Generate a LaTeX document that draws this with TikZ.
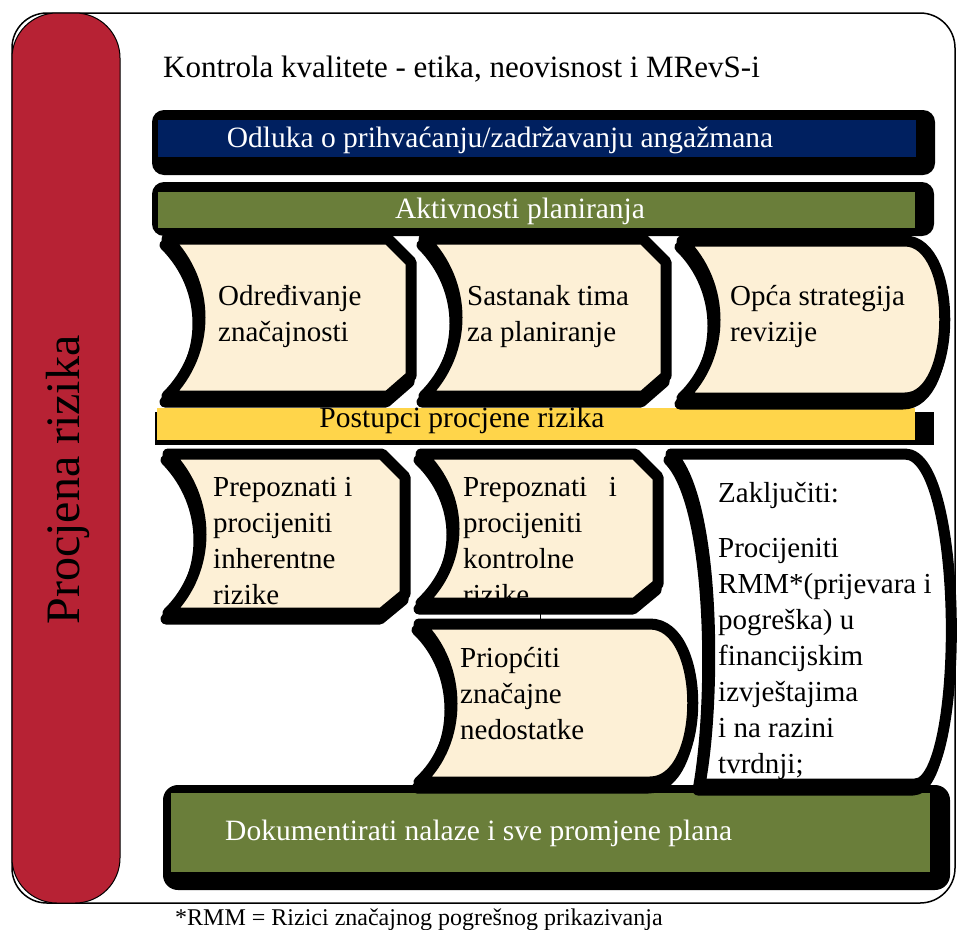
\documentclass[tikz,border=0pt]{standalone}
\usepackage{fontspec}
\setmainfont{Liberation Serif}
\definecolor{navy}{HTML}{002060}
\definecolor{olive}{HTML}{6A7E3A}
\definecolor{ambr}{HTML}{FFD54A}
\definecolor{cream}{HTML}{FDF0D6}
\definecolor{rred}{HTML}{B72234}
\newcommand\mylines[1]{\begin{tabular}[t]{@{}l@{}}#1\end{tabular}}
\tikzset{
  blk/.style={fill=black, rounded corners=12pt},
  chev/.style={fill=cream, draw=black, line width=11pt, line join=round},
  chevw/.style={fill=white, draw=black, line width=11pt, line join=round},
  shad/.style={fill=black, draw=black, line width=11pt, line join=round, yshift=-6pt, xshift=-2pt},
  lbl/.style={anchor=base west, inner sep=0pt, font=\fontsize{29}{36}\selectfont},
  barlbl/.style={anchor=base, inner sep=0pt, text=white, font=\fontsize{29.5}{35}\selectfont},
}
\newcommand\shpA{(167,239) -- (388,239) -- (411,262) -- (411,376) -- (388,396) -- (167,396) .. controls (211,352) and (211,283) .. cycle}
\newcommand\shpB{(424,239) -- (643,239) -- (666,262) -- (666,376) -- (643,396) -- (424,396) .. controls (468,352) and (468,283) .. cycle}
\newcommand\shpC{(682,241) -- (905,241) .. controls (958,241) and (958,398) .. (905,398) -- (682,398) .. controls (726,356) and (726,284) .. cycle}
\newcommand\shpD{(168,454) -- (382,454) -- (405,477) -- (405,594) -- (382,613) -- (168,613) .. controls (212,570) and (212,499) .. cycle}
\newcommand\shpE{(421,454) -- (635,454) -- (658,477) -- (658,584) -- (635,603) -- (421,603) .. controls (465,562) and (465,496) .. cycle}
\newcommand\shpF{(671,454) -- (905,454) .. controls (965,454) and (965,784) .. (915,784) -- (700,784) .. controls (716,700) and (716,500) .. cycle}
\newcommand\shpG{(419,624) -- (650,624) .. controls (707,624) and (707,782) .. (650,782) -- (419,782) .. controls (463,742) and (463,666) .. cycle}
\begin{document}
\begin{tikzpicture}[x=1pt,y=-1pt]
\useasboundingbox (0,0) rectangle (957,929);
% outer frame
\draw[line width=1.5pt, rounded corners=35pt] (12,13) rectangle (955,903);
% red side bar
\fill[rred, draw=black, line width=1pt, rounded corners=45pt] (12,13) rectangle (120,903);
\node[rotate=90, inner sep=0pt, font=\fontsize{48}{55}\selectfont] (side) at (68,480) {Procjena rizika};
% title
\node[anchor=base west, inner sep=0pt, font=\fontsize{31}{36}\selectfont] (title) at (163,77) {Kontrola kvalitete - etika, neovisnost i MRevS-i};
% bar 1
\fill[blk] (152,110) rectangle (935,175);
\fill[navy] (158,120) rectangle (916,157);
\node[barlbl] (odluka) at (500,147) {Odluka o prihvaćanju/zadržavanju angažmana};
% bar 2
\fill[blk] (152,182) rectangle (934,236);
\fill[olive] (158,192) rectangle (915,228);
\node[barlbl] (aktiv) at (520,218) {Aktivnosti planiranja};
% yellow bar
\fill[black] (155,412) rectangle (934,445);
\fill[ambr] (157,408) rectangle (915,440);
\node[barlbl, text=black] (postupci) at (462,427) {Postupci procjene rizika};
% bottom bar
\fill[black, rounded corners=15pt] (163,785) rectangle (950,890);
\fill[olive] (171,793) rectangle (930,872);
\node[barlbl, anchor=base west] (dok) at (225,840) {Dokumentirati nalaze i sve promjene plana};
% row 1
\path[shad] \shpA; \path[chev] \shpA;
\node[lbl] (odr) at (218,305) {\mylines{Određivanje\\značajnosti}};
\path[shad] \shpB; \path[chev] \shpB;
\node[lbl] (sast) at (467,305) {\mylines{Sastanak tima\\za planiranje}};
\path[shad] \shpC; \path[chev] \shpC;
\node[lbl] (opca) at (730,305) {\mylines{Opća strategija\\revizije}};
% row 2
\path[shad] \shpD; \path[chev] \shpD;
\node[lbl] (inh) at (213,496) {\mylines{Prepoznati i\\procijeniti\\inherentne\\rizike}};
\path[shad] \shpE; \path[chev] \shpE;
\node[lbl] (kon) at (463,496) {\mylines{Prepoznati~~~i\\procijeniti\\kontrolne\\rizike}};
\draw[line width=1pt] (540,603) -- (540,630);
\path[shad] \shpF; \path[chevw] \shpF;
\node[lbl] (zak) at (718,502) {\mylines{Zaključiti:\\[19pt]Procijeniti\\RMM*(prijevara i\\pogreška) u\\financijskim\\izvještajima\\i na razini\\tvrdnji;}};
\path[shad] \shpG; \path[chev] \shpG;
\node[lbl] (prio) at (460,667) {\mylines{Priopćiti\\značajne\\nedostatke}};
% footnote
\node[anchor=base west, inner sep=0pt, font=\fontsize{24}{28}\selectfont] (foot) at (175,925) {*RMM = Rizici značajnog pogrešnog prikazivanja};
\end{tikzpicture}
\end{document}
